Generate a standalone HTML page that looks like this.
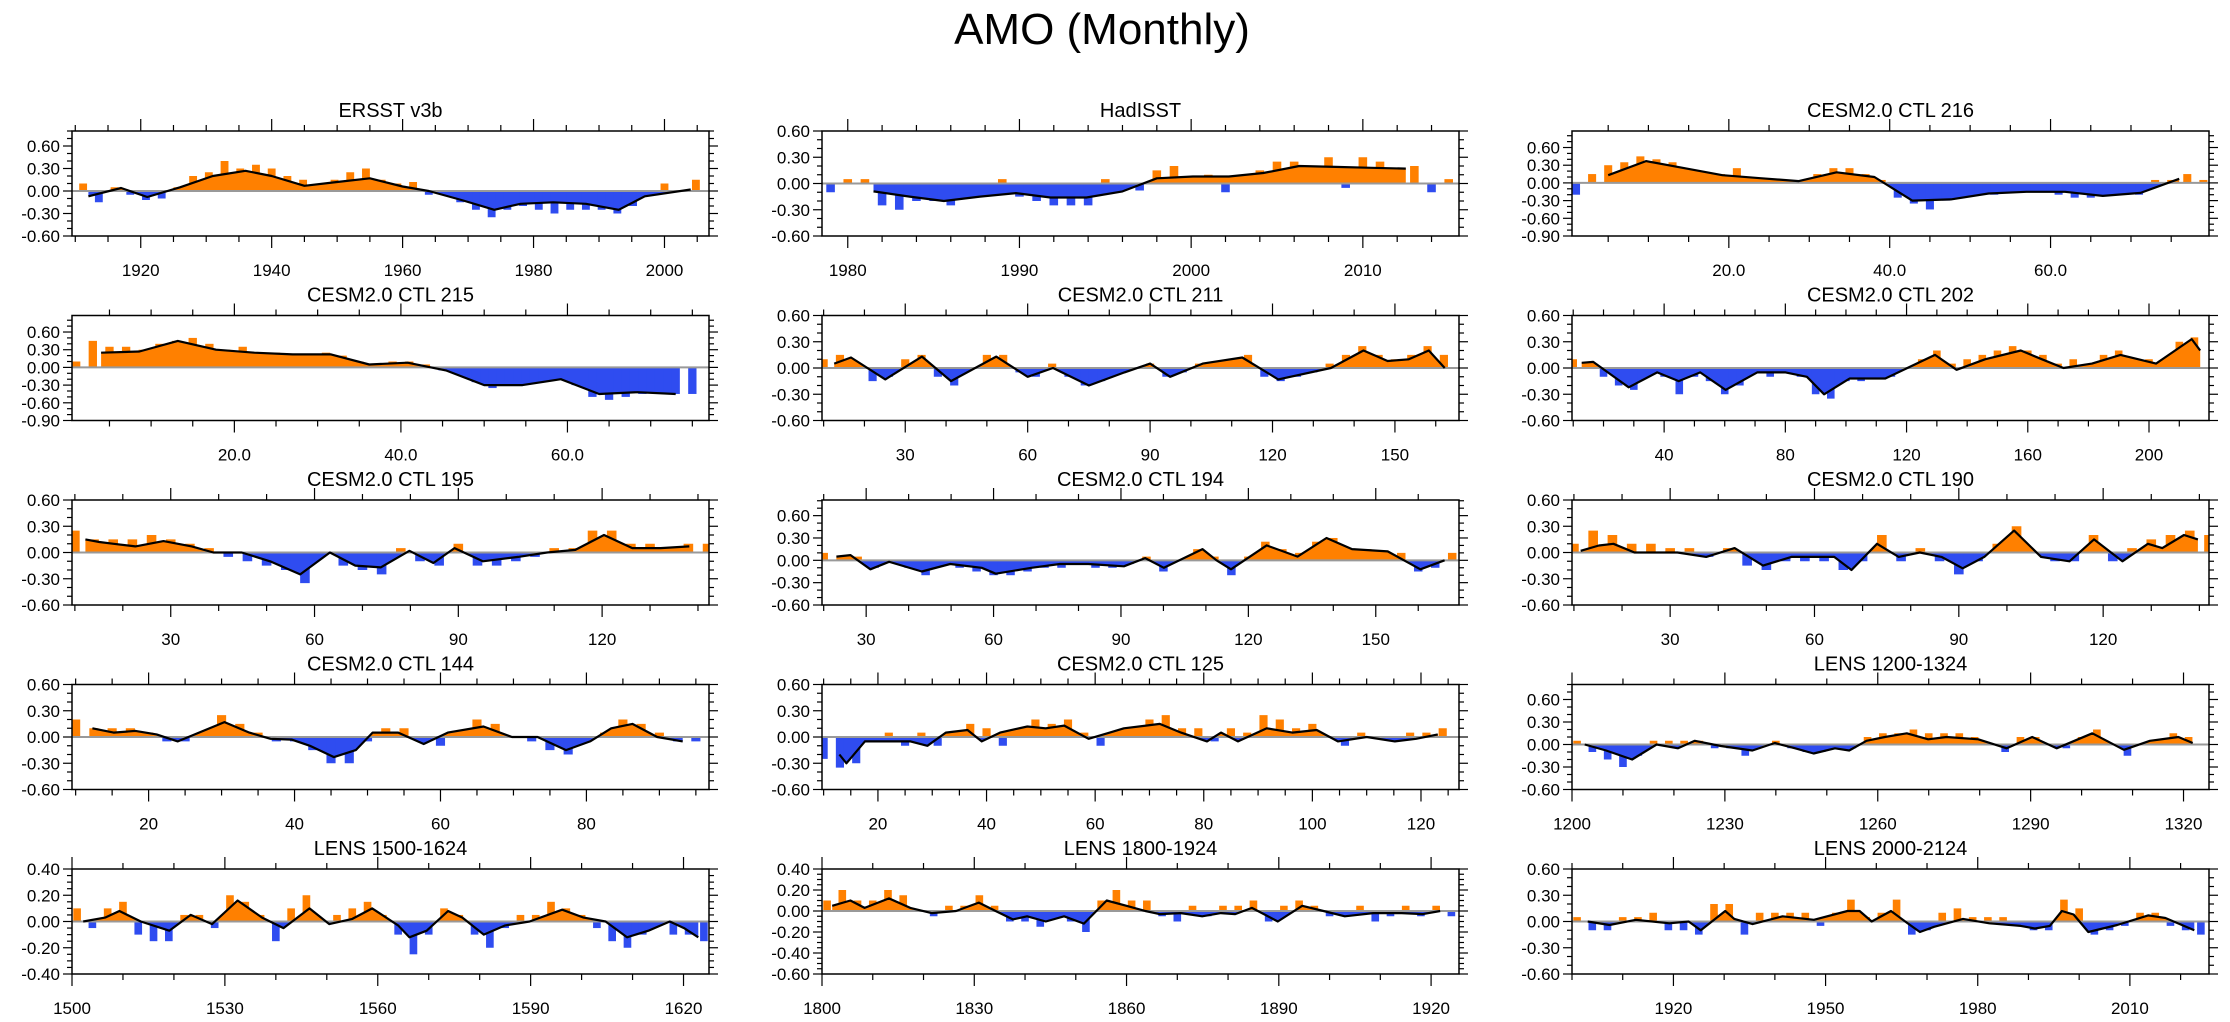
<!DOCTYPE html>
<html><head><meta charset="utf-8"><style>
html,body{margin:0;padding:0;background:#fff;}
svg{display:block;font-family:"Liberation Sans",Arial,sans-serif;}
</style></head><body>
<svg id="chart" width="2230" height="1022" viewBox="0 0 2230 1022" xmlns="http://www.w3.org/2000/svg">
<rect width="2230" height="1022" fill="#fff"/>
<text x="1102" y="44" font-size="44" text-anchor="middle" fill="#000">AMO (Monthly)</text>
<defs id="defs"></defs>
</svg>
<script>
// ---- data (anomaly bars at regular spacing, smoothed line points) ----
const ersstVals=[0.1,-0.15,0.05,-0.05,-0.12,-0.1,0.05,0.2,0.25,0.4,0.3,0.35,0.3,0.2,0.15,0.05,0.15,0.25,0.3,0.15,0.1,0.12,-0.05,-0.05,-0.15,-0.25,-0.35,-0.25,-0.2,-0.25,-0.3,-0.25,-0.25,-0.25,-0.3,-0.2,-0.05,0.1,0.0,0.15];
const ersstSmX=[1912,1917,1921,1926,1931,1936,1940,1945,1950,1955,1960,1964,1969,1974,1978,1983,1988,1993,1997,2004];
const ersstSmY=[-0.07,0.04,-0.08,0.05,0.2,0.27,0.2,0.07,0.12,0.17,0.06,0.0,-0.12,-0.25,-0.17,-0.15,-0.17,-0.25,-0.07,0.02];

const hadVals=[-0.1,0.05,0.05,-0.25,-0.3,-0.2,-0.2,-0.25,-0.05,-0.1,0.05,-0.15,-0.2,-0.25,-0.25,-0.25,0.05,-0.05,-0.08,0.15,0.2,0.0,0.1,-0.1,0.05,0.15,0.25,0.25,0.15,0.3,-0.05,0.3,0.25,0.15,0.2,-0.1,0.05];
const hadSmX=[1981.5,1983.6,1985.6,1987.7,1989.8,1991.8,1993.9,1996,1998,2000.1,2002.2,2004.2,2006.3,2008.4,2010.5,2012.5];
const hadSmY=[-0.09,-0.15,-0.2,-0.15,-0.11,-0.16,-0.16,-0.09,0.06,0.08,0.08,0.12,0.2,0.19,0.18,0.17];

const c216Vals=[-0.2,0.15,0.3,0.35,0.45,0.4,0.35,0.2,0.12,0.15,0.25,0.1,0.05,0.05,0.03,0.15,0.25,0.25,0.15,0.05,-0.25,-0.35,-0.45,-0.3,-0.2,-0.2,-0.2,-0.15,-0.15,-0.15,-0.2,-0.25,-0.25,-0.2,-0.2,-0.2,0.05,0.05,0.15,0.05];
const c216SmX=[5,9.7,14.5,19.2,23.9,28.7,33.4,38.1,42.8,47.6,52.3,57,61.8,66.5,71.2,76];
const c216SmY=[0.13,0.37,0.25,0.13,0.08,0.03,0.18,0.1,-0.3,-0.28,-0.18,-0.15,-0.15,-0.22,-0.17,0.07];

const c215Vals=[0.1,0.45,0.35,0.35,0.3,0.4,0.45,0.5,0.4,0.3,0.35,0.25,0.25,0.2,0.2,0.25,0.2,0.1,0.05,0.1,0.1,0.05,-0.05,-0.1,-0.25,-0.35,-0.3,-0.25,-0.25,-0.2,-0.3,-0.5,-0.55,-0.5,-0.45,-0.45,-0.45,-0.45];
const c215SmX=[4,8.6,13.2,17.8,22.4,27,31.6,36.2,40.8,45.4,50,54.6,59.2,63.8,68.4,73];
const c215SmY=[0.25,0.27,0.45,0.3,0.25,0.22,0.22,0.05,0.08,-0.05,-0.3,-0.3,-0.2,-0.45,-0.42,-0.45];

const c211Vals=[0.1,0.15,0.05,-0.15,-0.1,0.1,0.15,-0.1,-0.2,0.0,0.15,0.15,-0.05,-0.1,0.05,-0.1,-0.2,-0.15,-0.05,0.0,0.05,-0.1,-0.05,0.05,0.05,0.1,0.15,-0.1,-0.15,-0.1,-0.05,0.05,0.15,0.25,0.15,0.1,0.15,0.25,0.15];
const c211SmX=[12.6,16.7,25.1,34.1,41.2,52.3,60,66.2,75,83.7,90,94.9,102.9,112.6,121.4,134.3,142.3,148.2,153.4,158.3,162.2];
const c211SmY=[0.05,0.12,-0.13,0.13,-0.15,0.13,-0.1,0.0,-0.2,-0.05,0.05,-0.1,0.05,0.12,-0.13,0.0,0.2,0.08,0.1,0.2,0.0];

const c202Vals=[0.1,0.05,-0.1,-0.2,-0.25,-0.05,-0.1,-0.3,-0.1,-0.15,-0.3,-0.2,-0.05,-0.1,-0.05,-0.1,-0.3,-0.35,-0.15,-0.15,-0.1,-0.1,0.0,0.1,0.2,0.05,0.1,0.15,0.2,0.25,0.2,0.15,0.05,0.1,0.05,0.15,0.2,0.1,0.1,0.1,0.3,0.35];
const c202SmX=[12.8,16.6,28.3,37.7,44.8,51.9,60.3,70.7,80.1,87.1,92.8,101.2,113,129.4,136.5,145.9,157.7,164.7,171.8,181.2,190.6,202.3,214.1,216.9];
const c202SmY=[0.06,0.07,-0.22,-0.05,-0.15,-0.05,-0.25,-0.05,-0.05,-0.1,-0.3,-0.12,-0.12,0.15,-0.02,0.1,0.2,0.1,0.0,0.05,0.15,0.05,0.33,0.2];

const c195Vals=[0.25,0.15,0.15,0.15,0.2,0.15,0.1,0.05,-0.05,-0.1,-0.15,-0.2,-0.35,0.0,-0.15,-0.2,-0.25,0.05,-0.1,-0.15,0.1,-0.15,-0.15,-0.1,-0.05,0.05,0.05,0.25,0.25,0.1,0.1,0.05,0.1,0.1];
const c195SmX=[12.2,15.1,18.1,22.6,28.5,34.4,38.9,44.8,50.7,57,63.2,68.5,73.8,79.8,84.8,89.2,95.1,102.5,108.5,114.4,120.4,126.3,132.2,138.2];
const c195SmY=[0.15,0.12,0.1,0.07,0.13,0.07,0.0,0.0,-0.1,-0.25,0.0,-0.15,-0.17,0.02,-0.12,0.05,-0.1,-0.05,0.0,0.03,0.2,0.05,0.05,0.07];

const c194Vals=[0.1,0.05,0.05,-0.1,0.0,-0.1,-0.2,-0.05,-0.1,-0.15,-0.2,-0.2,-0.15,-0.1,-0.1,-0.05,-0.1,-0.1,-0.05,0.05,-0.15,0.0,0.15,0.05,-0.2,0.05,0.25,0.15,0.1,0.25,0.3,0.15,0.15,0.1,0.1,-0.15,-0.1,0.1];
const c194SmX=[23,26.3,31,35.4,43.1,49.8,57.2,60.5,68.9,75.6,82.3,90.7,95.7,100.1,109.2,112.5,115.9,124.3,131.6,138.4,144.4,152.8,160.5,166.2];
const c194SmY=[0.05,0.07,-0.12,-0.02,-0.15,-0.05,-0.1,-0.18,-0.1,-0.05,-0.05,-0.08,0.03,-0.1,0.15,0.0,-0.12,0.2,0.05,0.3,0.15,0.12,-0.12,0.0];

const c190Vals=[0.1,0.25,0.2,0.1,0.1,0.05,0.05,-0.05,0.05,-0.15,-0.2,-0.1,-0.1,-0.1,-0.2,-0.1,0.2,-0.1,0.05,-0.1,-0.25,-0.1,0.1,0.3,0.0,-0.1,-0.1,0.2,-0.1,0.05,0.15,0.2,0.25,0.2];
const c190SmX=[11.4,15.2,18.2,22.6,27.1,31.5,37.5,43.4,49.3,55.2,59.7,64.1,67.7,73,77.5,81.9,86.4,90.8,95.3,101.5,107.1,113,118.1,124,129.3,132.3,136.8,139.7];
const c190SmY=[0.02,0.08,0.1,0.0,0.0,0.0,-0.05,0.05,-0.15,-0.05,-0.05,-0.05,-0.2,0.1,-0.05,0.0,-0.05,-0.18,-0.05,0.25,-0.05,-0.1,0.15,-0.1,0.1,0.05,0.2,0.15];

const c144Vals=[0.2,0.1,0.1,0.1,0.05,-0.05,-0.05,0.05,0.25,0.15,0.05,-0.05,-0.05,-0.15,-0.3,-0.3,-0.05,0.1,0.1,-0.05,-0.1,0.05,0.2,0.15,0.0,-0.05,-0.15,-0.2,-0.05,0.05,0.2,0.15,0.05,-0.05,-0.05];
const c144SmX=[12.3,15.2,18.2,21.1,24,26.9,30.4,33.8,36.7,39.6,42.1,45.4,48.4,50.7,54.2,57.7,61,65.9,69.8,73.3,77.2,80.5,83.4,86.3,89.7,93.2];
const c144SmY=[0.1,0.05,0.07,0.03,-0.05,0.05,0.17,0.05,-0.02,-0.03,-0.1,-0.23,-0.15,0.05,0.05,-0.08,0.05,0.12,0.0,0.0,-0.15,-0.05,0.1,0.15,0.0,-0.05];

const c125Vals=[-0.25,-0.35,-0.3,-0.05,0.05,-0.1,0.05,-0.1,0.05,0.15,0.1,-0.1,0.1,0.2,0.15,0.2,0.05,-0.1,0.05,0.1,0.2,0.25,0.1,0.1,-0.05,0.1,0.05,0.25,0.2,0.1,0.15,0.0,-0.1,0.05,0.0,-0.05,0.05,0.05,0.1];
const c125SmX=[12.9,14.2,17.6,22,26,29.1,32.5,36.5,39.1,42.5,47.5,50.9,54.3,58.8,62.7,65.3,71.9,75.8,80.6,83.2,86.3,91.6,96.3,100.8,104.7,110,115.2,119.1,123.1];
const c125SmY=[-0.2,-0.3,-0.05,-0.05,-0.05,-0.1,0.05,0.08,-0.05,0.05,0.12,0.1,0.13,-0.02,0.05,0.1,0.15,0.05,-0.05,0.05,-0.05,0.1,0.05,0.08,-0.05,0.0,-0.05,-0.02,0.03];

const l1200Vals=[0.05,-0.1,-0.2,-0.3,-0.15,0.05,0.05,0.05,0.05,-0.05,-0.05,-0.15,0.0,0.05,-0.05,-0.1,-0.1,-0.05,-0.05,0.1,0.15,0.15,0.2,0.15,0.15,0.15,0.1,0.0,-0.1,0.1,0.1,0.0,-0.05,0.1,0.2,0.0,-0.15,0.0,0.05,0.15,0.1];
const l1200SmX=[1202.5,1206.7,1211.8,1216.6,1220.8,1224.1,1229.2,1235.4,1239.8,1243.8,1247.4,1251.6,1254.4,1257.8,1261.4,1265.7,1269.9,1273.5,1279.7,1285.3,1290.3,1295.1,1302.1,1308.3,1313.4,1319,1321.8];
const l1200SmY=[0.0,-0.08,-0.2,0.0,-0.05,0.05,-0.02,-0.08,0.02,-0.05,-0.12,-0.05,-0.08,0.05,0.1,0.15,0.07,0.1,0.07,-0.05,0.1,-0.05,0.15,-0.07,0.05,0.1,0.02];

const l1500Vals=[0.1,-0.05,0.1,0.15,-0.1,-0.15,-0.15,0.05,0.05,-0.05,0.2,0.15,0.05,-0.15,0.1,0.2,0.0,0.05,0.1,0.15,0.05,-0.1,-0.25,-0.1,0.1,0.05,-0.1,-0.2,-0.05,0.05,0.05,0.15,0.1,0.05,-0.05,-0.15,-0.2,-0.1,0.0,-0.1,-0.1,-0.15];
const l1500SmX=[1502.2,1506.5,1509.3,1513.5,1519.1,1523.3,1527.5,1532.5,1537.3,1541.5,1546.6,1550.5,1555,1558.9,1564,1566.2,1569.6,1573.8,1576.6,1580.8,1585,1589.8,1596.2,1600.4,1604.7,1608.9,1613.1,1617.3,1620.1,1622.9];
const l1500SmY=[0.0,0.03,0.08,0.0,-0.07,0.05,-0.02,0.16,0.03,-0.05,0.1,-0.02,0.02,0.1,-0.03,-0.12,-0.07,0.08,0.03,-0.1,-0.03,0.0,0.09,0.03,0.0,-0.12,-0.07,0.0,-0.05,-0.12];

const l1800Vals=[0.1,0.2,0.1,0.1,0.2,0.15,0.0,-0.05,0.05,0.05,0.15,0.05,-0.1,-0.1,-0.15,-0.05,-0.1,-0.2,0.1,0.2,0.1,0.1,-0.05,-0.1,0.05,-0.05,0.05,0.05,0.1,-0.1,0.05,0.1,0.05,-0.05,-0.05,0.05,-0.1,-0.05,0.05,-0.05,0.05,-0.05];
const l1800SmX=[1802,1805.6,1808.4,1813.2,1817.4,1821.6,1826.4,1830.9,1834.2,1837.6,1840.4,1844.1,1847.7,1851.6,1856.1,1860,1863.7,1866.5,1870.7,1874.9,1878.6,1881.4,1884.7,1889.8,1894.6,1898.8,1903,1908.6,1914.2,1918.4,1921.8];
const l1800SmY=[0.05,0.1,0.03,0.12,0.03,-0.02,0.0,0.08,0.0,-0.08,-0.05,-0.1,-0.05,-0.12,0.1,0.05,0.0,-0.03,-0.02,-0.05,-0.02,-0.03,0.03,-0.1,0.05,0.0,-0.05,-0.02,-0.02,-0.03,0.0];

const l2000Vals=[0.05,-0.1,-0.1,0.05,0.05,0.1,-0.1,-0.1,-0.15,0.2,0.2,-0.15,0.1,0.1,0.1,0.1,-0.05,0.1,0.25,0.05,0.1,0.25,-0.15,-0.1,0.1,0.15,0.05,0.05,0.05,-0.05,-0.1,-0.1,0.25,0.15,-0.15,-0.1,-0.05,0.1,0.1,-0.05,-0.1,-0.15];
const l2000SmX=[1903.1,1907.4,1912.6,1919.2,1923,1925.4,1930.2,1932,1935.6,1941.5,1947.7,1954.3,1956.7,1959.1,1962.9,1965.7,1968.6,1971.4,1977.1,1982.3,1988.5,1991.3,1994.2,1996.6,1998.9,2001.8,2007.5,2013.6,2017,2022.7];
const l2000SmY=[0.0,-0.04,0.02,-0.02,0.0,-0.1,0.12,0.03,-0.03,0.06,0.02,0.12,0.12,0.0,0.12,0.0,-0.12,-0.06,0.03,-0.02,-0.05,-0.08,-0.05,0.12,0.08,-0.12,-0.04,0.07,0.04,-0.1];

// ---- panel configuration ----
const panels=[
 {name:'ersst',title:'ERSST v3b',x0:1909.5,x1:2006.8,y0:-0.6,y1:0.8,ys:0.3,ym:0.1,xt:[1920,1940,1960,1980,2000],xm:5,fmt:0,bs:1910,bw:2.4,v:ersstVals,sx:ersstSmX,sy:ersstSmY},
 {name:'hadisst',title:'HadISST',x0:1978.5,x1:2015.6,y0:-0.6,y1:0.6,ys:0.3,ym:0.1,xt:[1980,1990,2000,2010],xm:2,fmt:0,bs:1978.5,bw:1,v:hadVals,sx:hadSmX,sy:hadSmY},
 {name:'ctl216',title:'CESM2.0 CTL 216',x0:0.5,x1:79.7,y0:-0.9,y1:0.88,ys:0.3,ym:0.1,xt:[20,40,60],xm:5,fmt:1,bs:0,bw:2,v:c216Vals,sx:c216SmX,sy:c216SmY},
 {name:'ctl215',title:'CESM2.0 CTL 215',x0:0.5,x1:77,y0:-0.9,y1:0.88,ys:0.3,ym:0.1,xt:[20,40,60],xm:5,fmt:1,bs:0,bw:2,v:c215Vals,sx:c215SmX,sy:c215SmY},
 {name:'ctl211',title:'CESM2.0 CTL 211',x0:9.6,x1:165.7,y0:-0.6,y1:0.6,ys:0.3,ym:0.1,xt:[30,60,90,120,150],xm:10,fmt:0,bs:8,bw:4,v:c211Vals,sx:c211SmX,sy:c211SmY},
 {name:'ctl202',title:'CESM2.0 CTL 202',x0:9.6,x1:219.8,y0:-0.6,y1:0.6,ys:0.3,ym:0.1,xt:[40,80,120,160,200],xm:10,fmt:0,bs:7.5,bw:5,v:c202Vals,sx:c202SmX,sy:c202SmY},
 {name:'ctl195',title:'CESM2.0 CTL 195',x0:9.4,x1:142.3,y0:-0.6,y1:0.6,ys:0.3,ym:0.1,xt:[30,60,90,120],xm:10,fmt:0,bs:8,bw:4,v:c195Vals,sx:c195SmX,sy:c195SmY},
 {name:'ctl194',title:'CESM2.0 CTL 194',x0:19.6,x1:169.6,y0:-0.6,y1:0.81,ys:0.3,ym:0.1,xt:[30,60,90,120,150],xm:10,fmt:0,bs:18,bw:4,v:c194Vals,sx:c194SmX,sy:c194SmY},
 {name:'ctl190',title:'CESM2.0 CTL 190',x0:9.6,x1:142,y0:-0.6,y1:0.6,ys:0.3,ym:0.1,xt:[30,60,90,120],xm:10,fmt:0,bs:8,bw:4,v:c190Vals,sx:c190SmX,sy:c190SmY},
 {name:'ctl144',title:'CESM2.0 CTL 144',x0:9.5,x1:96.8,y0:-0.6,y1:0.6,ys:0.3,ym:0.1,xt:[20,40,60,80],xm:5,fmt:0,bs:8.75,bw:2.5,v:c144Vals,sx:c144SmX,sy:c144SmY},
 {name:'ctl125',title:'CESM2.0 CTL 125',x0:9.7,x1:127,y0:-0.6,y1:0.6,ys:0.3,ym:0.1,xt:[20,40,60,80,100,120],xm:5,fmt:0,bs:8.5,bw:3,v:c125Vals,sx:c125SmX,sy:c125SmY},
 {name:'lens1200',title:'LENS 1200-1324',x0:1200,x1:1325,y0:-0.6,y1:0.8,ys:0.3,ym:0.1,xt:[1200,1230,1260,1290,1320],xm:10,fmt:0,bs:1199.5,bw:3,v:l1200Vals,sx:l1200SmX,sy:l1200SmY},
 {name:'lens1500',title:'LENS 1500-1624',x0:1500,x1:1625,y0:-0.4,y1:0.4,ys:0.2,ym:0.05,xt:[1500,1530,1560,1590,1620],xm:10,fmt:0,bs:1499.5,bw:3,v:l1500Vals,sx:l1500SmX,sy:l1500SmY},
 {name:'lens1800',title:'LENS 1800-1924',x0:1800,x1:1925.5,y0:-0.6,y1:0.4,ys:0.2,ym:0.05,xt:[1800,1830,1860,1890,1920],xm:10,fmt:0,bs:1799.5,bw:3,v:l1800Vals,sx:l1800SmX,sy:l1800SmY},
 {name:'lens2000',title:'LENS 2000-2124',x0:1900,x1:2025.6,y0:-0.6,y1:0.6,ys:0.3,ym:0.1,xt:[1920,1950,1980,2010],xm:10,fmt:0,bs:1899.5,bw:3,v:l2000Vals,sx:l2000SmX,sy:l2000SmY}
];

const NS='http://www.w3.org/2000/svg';
const svg=document.getElementById('chart');
const defs=document.getElementById('defs');
const colL=[72,822,1572], rowT=[131,315.5,500,684.5,869], PW=637, PH=105;
const ORANGE='#ff8000', BLUE='#2f4cf0';
function mk(tag,attrs,parent){const e=document.createElementNS(NS,tag);for(const k in attrs)e.setAttribute(k,attrs[k]);(parent||svg).appendChild(e);return e;}

panels.forEach((p,i)=>{
  const L=colL[i%3], T=rowT[Math.floor(i/3)], R=L+PW, B=T+PH;
  const sx=x=>L+(x-p.x0)/(p.x1-p.x0)*PW;
  const sy=y=>B-(y-p.y0)/(p.y1-p.y0)*PH;
  const y0=sy(0);
  const g=mk('g',{});
  
  
  const cp=mk('clipPath',{id:'cp'+i},defs);
  mk('rect',{x:L,y:T,width:PW,height:PH},cp);
  const cpu=mk('clipPath',{id:'cpu'+i},defs);
  mk('rect',{x:L,y:T,width:PW,height:y0-T},cpu);
  const cpd=mk('clipPath',{id:'cpd'+i},defs);
  mk('rect',{x:L,y:y0,width:PW,height:B-y0},cpd);
  const t=mk('text',{x:(L+R)/2,y:T-14,'font-size':20,'text-anchor':'middle',fill:'#000'},g);
  t.textContent=p.title;
  
  
  const sPts=p.sx.map((x,j)=>sx(x).toFixed(1)+','+sy(p.sy[j]).toFixed(1));
  const areaPts=sx(p.sx[0]).toFixed(1)+','+y0+' '+sPts.join(' ')+' '+sx(p.sx[p.sx.length-1]).toFixed(1)+','+y0;
  const au=mk('polygon',{points:areaPts,fill:ORANGE,'clip-path':'url(#cpu'+i+')'},g);
  
  
  const ad=mk('polygon',{points:areaPts,fill:BLUE,'clip-path':'url(#cpd'+i+')'},g);
  
  
  const bars=mk('g',{'clip-path':'url(#cp'+i+')'},g);
  
  
  p.v.forEach((v,j)=>{
    const xa=sx(p.bs+j*p.bw), xb=sx(p.bs+(j+1)*p.bw), w=xb-xa, yv=sy(v);
    const r=mk('rect',{x:xa+w*0.25,y:Math.min(yv,y0),width:Math.max(0.5,w*0.5),height:Math.abs(yv-y0),fill:v>=0?ORANGE:BLUE},bars);
    
    
  });
  const zl=mk('line',{x1:L,x2:R,y1:y0,y2:y0,stroke:'#999','stroke-width':2},g);
  
  
  const pl=mk('polyline',{points:sPts.join(' '),fill:'none',stroke:'#000','stroke-width':2.2,'stroke-linejoin':'round'},g);
  
  
  const box=mk('rect',{x:L,y:T,width:PW,height:PH,fill:'none',stroke:'#000','stroke-width':1.5},g);
  
  
  const xax=mk('g',{stroke:'#000','stroke-width':1.2},g);
  
  
  for(let x=Math.ceil(p.x0/p.xm)*p.xm;x<=p.x1;x+=p.xm){
    const X=sx(x); const maj=p.xt.includes(x);
    const len=maj?12:6;
    mk('line',{x1:X,x2:X,y1:B,y2:B+len},xax);
    mk('line',{x1:X,x2:X,y1:T,y2:T-len},xax);
  }
  p.xt.forEach(x=>{
    const tx=mk('text',{x:sx(x),y:B+40,'font-size':17,'text-anchor':'middle',fill:'#000'},g);
    tx.textContent=p.fmt?x.toFixed(1):String(x);
    
    
  });
  const yax=mk('g',{stroke:'#000','stroke-width':1.2},g);
  
  
  const nMin=Math.ceil(p.y0/p.ym-1e-6), nMax=Math.floor(p.y1/p.ym+1e-6);
  for(let k=nMin;k<=nMax;k++){
    const y=k*p.ym, Y=sy(y);
    const maj=Math.abs(y/p.ys-Math.round(y/p.ys))<1e-6;
    const len=maj?9:5;
    mk('line',{x1:L,x2:L-len,y1:Y,y2:Y},yax);
    mk('line',{x1:R,x2:R+len,y1:Y,y2:Y},yax);
    if(maj){
      const ty=mk('text',{x:L-12,y:Y+6,'font-size':17,'text-anchor':'end',fill:'#000',stroke:'none'},g);
      ty.textContent=(Math.abs(y)<1e-9?0:y).toFixed(2);
      
      
    }
  }
});
</script>
</body></html>
